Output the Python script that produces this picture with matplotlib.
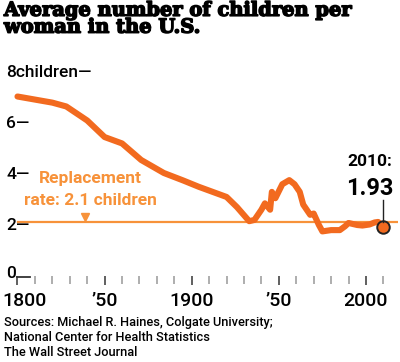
import matplotlib
matplotlib.use("Agg")
import matplotlib.pyplot as plt
import matplotlib.patheffects as pe
import matplotlib.transforms as mtransforms

# children per woman
years = [1800, 1810, 1820, 1828, 1840, 1850, 1860, 1871, 1884, 1895, 1904, 1912, 1920,
         1926, 1933, 1936, 1940, 1942, 1945, 1946, 1948, 1952, 1956, 1959, 1962,
         1964, 1968, 1970, 1973, 1975, 1980, 1985, 1988, 1990, 1995, 1998, 2002,
         2005, 2007, 2010]
rate = [7.04, 6.92, 6.8, 6.65, 6.1, 5.45, 5.2, 4.55, 4.04, 3.75, 3.5, 3.3, 3.1,
        2.7, 2.15, 2.2, 2.6, 2.85, 2.6, 3.3, 3.05, 3.6, 3.76, 3.6, 3.3,
        2.8, 2.4, 2.45, 2.0, 1.75, 1.8, 1.8, 1.95, 2.08, 2.0, 1.98, 2.02,
        2.1, 2.12, 1.93]
replacement = 2.1
ytick_vals = [2, 4, 6, 8]
ytick_text = ["2—", "4—", "6—", "8children—"]
xtick_vals = [1800, 1850, 1900, 1950, 2000]
xtick_text = ["1800", "’50", "1900", "’50", "2000"]

orange = "#f26a1f"
light_orange = "#f7923a"
sans = "Roboto"

fig = plt.figure(figsize=(4, 3.62), dpi=100)
ax = fig.add_axes([10 / 400, 86 / 362, 388 / 400, 206 / 362])
ax.set_xlim(1795.7, 2018.4)
ax.set_ylim(0, 8.08)
for s in ax.spines.values():
    s.set_visible(False)

# replacement line
ax.axhline(replacement, xmin=0.02, color=light_orange, lw=1.6, zorder=2)
ax.plot([1839], [replacement + 0.22], marker="v", color=light_orange, ms=6, zorder=3)
ax.text(1842, 3.84, "Replacement", color=light_orange, fontsize=12.5,
        fontweight="bold", family=sans, ha="center", va="center")
ax.text(1842, 2.98, "rate: 2.1 children", color=light_orange, fontsize=12.5,
        fontweight="bold", family=sans, ha="center", va="center")

# main line
ax.plot(years, rate, color=orange, lw=4.4, solid_capstyle="round",
        solid_joinstyle="round", zorder=4)

# 2010 marker
ax.plot([years[-1]], [rate[-1]], marker="o", ms=9, mfc=orange, mec="#222222",
        mew=1.4, zorder=5, clip_on=False)
ax.plot([years[-1], years[-1]], [rate[-1] + 0.2, 2.98], color="#222222", lw=1.0, zorder=5)
ax.text(2002.3, 4.5, "2010:", fontsize=12.5, fontweight="bold", ha="center",
        va="center", family=sans)
ax.text(2002.3, 3.45, f"{rate[-1]:.2f}", fontsize=17, fontweight="bold",
        ha="center", va="center", family=sans)

# y labels
for v, t in zip(ytick_vals, ytick_text):
    ax.text(1793.5, v, t, fontsize=12.5, fontweight="medium", ha="left",
            va="center", family=sans)
ax.text(1793.5, 0.08, "0", fontsize=12.5, fontweight="medium", ha="left",
        va="center", family=sans)
ax.plot([1800, 1807], [-0.03, -0.03], color="#333333", lw=1.3, clip_on=False)

ax.set_yticks([])
ax.set_xticks(range(1800, 2011, 10), minor=True)
ax.set_xticks(xtick_vals)
ax.set_xticklabels(xtick_text, fontsize=14, family=sans, fontweight="medium")
ax.tick_params(axis="x", which="major", length=6.5, width=1.2, color="#444444", pad=5)
ax.tick_params(axis="x", which="minor", length=5.5, width=1.1, color="#999999")
# first label sits a bit right of its tick
first = ax.get_xticklabels()[0]
first.set_transform(first.get_transform() +
                    mtransforms.ScaledTranslation(0.07, 0, fig.dpi_scale_trans))

fig.text(0.01, 0.995, "Average number of children per\nwoman in the U.S.",
         fontsize=14, fontweight="heavy", family="DejaVu Serif", va="top",
         linespacing=0.92,
         path_effects=[pe.withStroke(linewidth=1.1, foreground="black")])
fig.text(0.01, 0.128, "Sources: Michael R. Haines, Colgate University;\n"
         "National Center for Health Statistics\nThe Wall Street Journal",
         fontsize=9.2, fontweight="medium", family=sans, va="top", linespacing=1.2)

fig.savefig("out.png", dpi=100)
